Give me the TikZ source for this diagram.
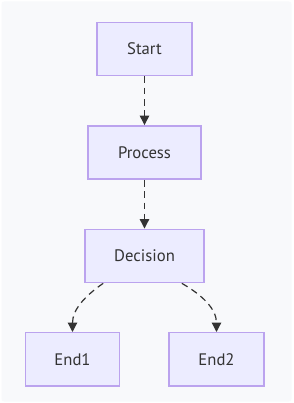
\documentclass[tikz,border=0pt]{standalone}
\usepackage{fontspec}
\setmainfont{PT Sans}
\usepackage{xcolor}
\usetikzlibrary{arrows.meta,positioning}
\definecolor{boxfill}{HTML}{ECECFF}
\definecolor{boxline}{HTML}{BBA3EE}
\definecolor{linkcol}{HTML}{333333}
\definecolor{canvas}{HTML}{F8F9FB}
\tikzset{
  flowbox/.style={draw=boxline, fill=boxfill, line width=1.1pt, minimum height=40pt, inner sep=0pt, text=linkcol, font=\fontsize{12.5}{14}\selectfont},
  flowarrow/.style={-{Triangle[length=7pt, width=7pt]}, draw=linkcol, line width=0.9pt, dash pattern=on 5pt off 3.5pt}
}

\begin{document}
\begin{tikzpicture}[x=0.75pt, y=-0.75pt, node distance=36.5pt]
  \fill[white] (0,0) rectangle (293,403);
  \useasboundingbox (0,0) rectangle (293,403);
  \fill[canvas, rounded corners=2pt] (1.5,1.5) rectangle (291.5,401.5);

  \node[flowbox, minimum width=71pt] (start) at (144.5,49) {Start};
  \node[flowbox, minimum width=84.5pt, below=of start] (process) {Process};
  \node[flowbox, minimum width=89pt, below=of process] (decision) {Decision};
  \node[flowbox, minimum width=70.5pt, below=36.5pt of decision, xshift=-54pt] (end1) {End1};
  \node[flowbox, minimum width=71pt, below=36.5pt of decision, xshift=54pt] (end2) {End2};

  \draw[flowarrow] (start) -- (process);
  \draw[flowarrow] (process) -- (decision);
  \draw[flowarrow] ([xshift=-31pt]decision.south) to[out=215, in=90] (end1.north);
  \draw[flowarrow] ([xshift=28pt]decision.south) to[out=-30, in=90] (end2.north);
\end{tikzpicture}
\end{document}
